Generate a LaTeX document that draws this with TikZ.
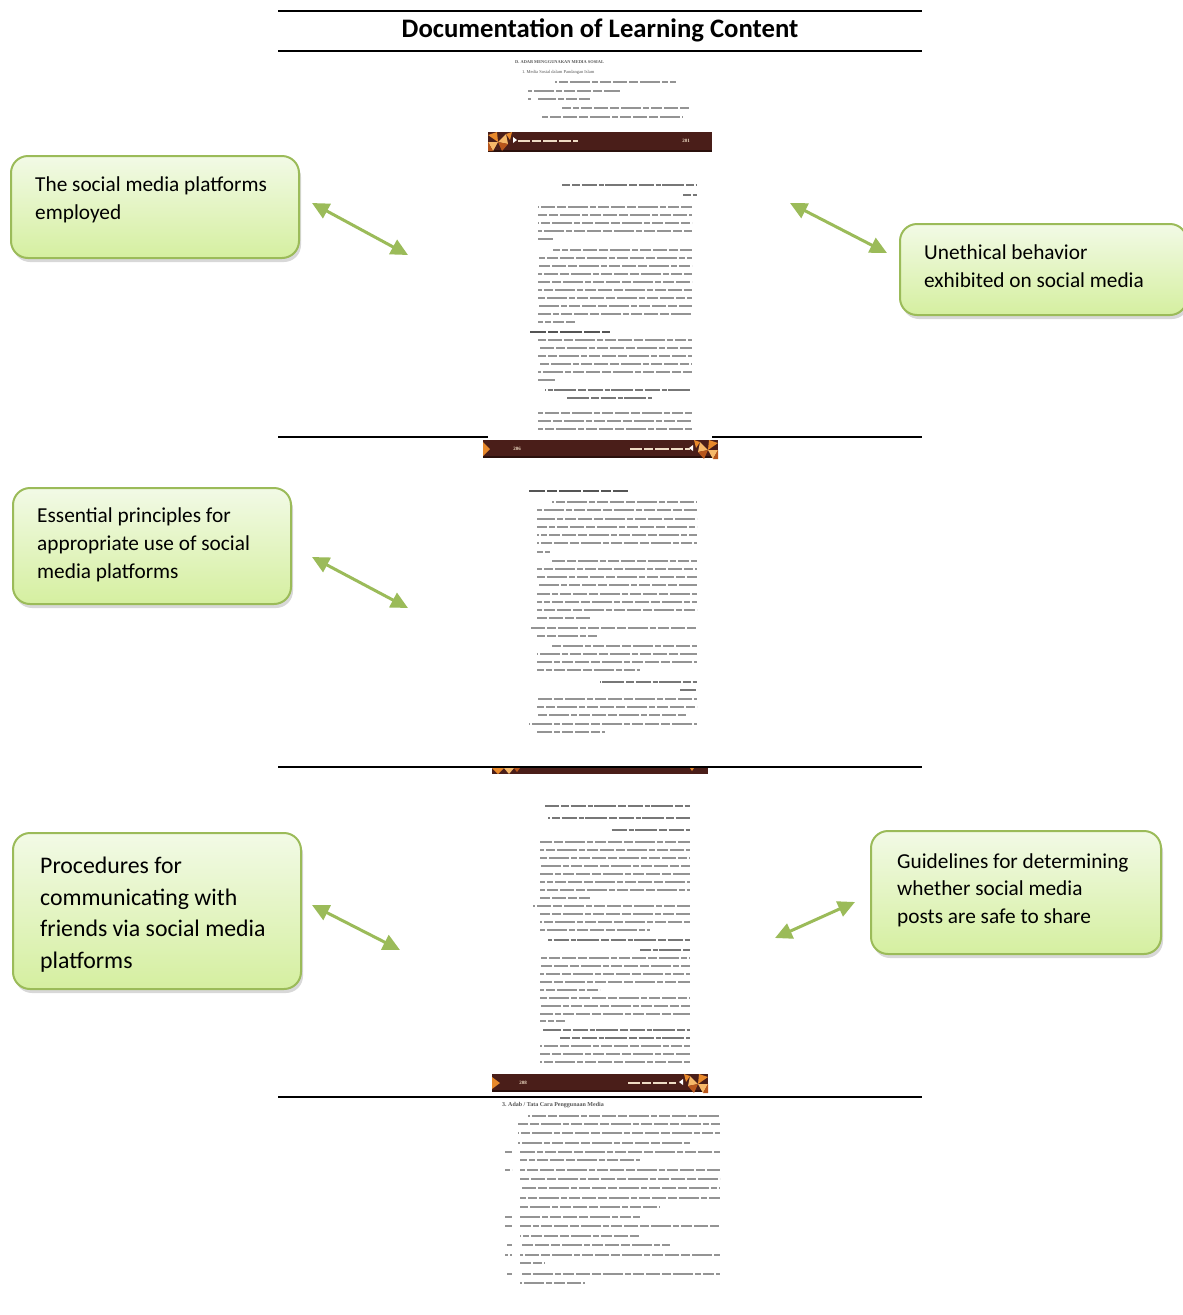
\documentclass[tikz,border=0pt]{standalone}
\usepackage{fontspec}
\setmainfont{Carlito}
\newfontfamily\pagefont{Liberation Serif}
\usetikzlibrary{arrows.meta,shadows}
\definecolor{ogreen}{HTML}{9BBB59}
\definecolor{gtop}{HTML}{F2FAE6}
\definecolor{gbot}{HTML}{D5EFA0}
\definecolor{barbrown}{HTML}{4A1E19}
\definecolor{barbot}{HTML}{2A100C}
\definecolor{orA}{HTML}{E8892B}
\definecolor{orB}{HTML}{F6B869}
\definecolor{orC}{HTML}{B8561C}
\definecolor{pagetxt}{HTML}{949494}
\definecolor{pagedark}{HTML}{555555}
\definecolor{bartxt}{HTML}{EFDCC4}
\newcommand\tl[3]{\draw[txt,dash phase=#3pt] (#1,#3) -- (#2,#3);}
\newcommand\al[3]{\draw[arab,dash phase=#3pt] (#1,#3) -- (#2,#3);}
\newcommand\motif{%
  \fill[orA] (0,3) -- (9,0) -- (10,10) -- cycle;
  \fill[orB] (10,10) -- (18,2) -- (20,12) -- cycle;
  \fill[orB] (0,10) -- (10,10) -- (5,19) -- cycle;
  \fill[orC] (10,10) -- (20,12) -- (14,19) -- cycle;
  \fill[orA] (18,2) -- (24,0) -- (22,8) -- cycle;
  \fill[orC] (0,10) -- (0,19) -- (5,19) -- cycle;
  \fill[white] (25,5) -- (25,11) -- (29,8) -- cycle;}
\begin{document}
\begin{tikzpicture}[x=1pt,y=-1pt,
  box/.style={draw=ogreen, line width=2pt, rounded corners=17pt,
    top color=gtop, bottom color=gbot, anchor=north west,
    inner sep=0pt,
    drop shadow={opacity=0.3, shadow xshift=2pt, shadow yshift=-4pt}},
  boxtext/.style={anchor=north west, inner sep=0pt, align=left,
    font=\fontsize{21.3}{27.8}\selectfont},
  link/.style={draw=ogreen, line width=3pt,
    {Triangle[length=17pt,width=16pt]}-{Triangle[length=17pt,width=16pt]}},
  rulefull/.style={draw=black, line width=2pt},
  txt/.style={draw=pagetxt, line width=1.25pt,
    dash pattern=on 14pt off 2pt on 9pt off 2pt on 20pt off 2pt on 6pt off 2pt on 11pt off 2pt},
  arab/.style={draw=pagedark!80, line width=1.7pt,
    dash pattern=on 22pt off 2pt on 8pt off 1.5pt on 15pt off 2pt on 5pt off 1.5pt},
  head/.style={draw=pagedark, line width=1.5pt,
    dash pattern=on 16pt off 2pt on 10pt off 2pt on 22pt off 2pt},
  barnum/.style={font=\pagefont\bfseries\fontsize{5}{6}\selectfont, text=bartxt, inner sep=0pt},
  bartext/.style={draw=bartxt, line width=1.1pt, dash pattern=on 12pt off 2pt on 9pt off 2pt on 14pt off 2pt},
  pagehead/.style={font=\pagefont\bfseries\fontsize{4.4}{5}\selectfont, text=pagedark, inner sep=0pt, anchor=west},
]
\useasboundingbox (0,0) rectangle (1183,1315);
\fill[white] (0,0) rectangle (1183,1315);

% ---------- title and rules ----------
\draw[rulefull] (278,11) -- (922,11);
\node[font=\fontsize{26.7}{30}\selectfont\bfseries, inner sep=0pt] (title) at (600,30) {Documentation of Learning Content};
\draw[rulefull] (278,51) -- (922,51);

% ---------- page 1 ----------
\node[pagehead] (p1h) at (515,62) {D.\ ADAB MENGGUNAKAN MEDIA SOSIAL};
\node[pagehead, font=\pagefont\fontsize{4.5}{5}\selectfont] (p1s) at (522,72) {1.\ Media Sosial dalam Pandangan Islam};
\tl{555}{676}{82}
\tl{528}{620}{91}
\tl{528}{531}{99}\tl{538}{590}{99}
\tl{562}{690}{108}
\tl{540}{683}{117}
% footer bar 1
\fill[barbrown] (488,132) rectangle (712,152);
\fill[barbot] (488,150) rectangle (712,152);
\begin{scope}[shift={(488,132)}]\motif\end{scope}
\draw[bartext] (518,141) -- (578,141);
\node[barnum] (n201) at (686,141) {201};

% ---------- page 2 ----------
\al{562}{697}{185}
\al{683}{697}{195}
\foreach \y in {207,215,223,231} {\tl{538}{692}{\y}}
\tl{538}{553}{239}
\tl{553}{692}{250}
\foreach \y in {258,266,274,282,290,298,306,314} {\tl{538}{692}{\y}}
\tl{538}{575}{322}
\draw[head] (530,332) -- (610,332);
\foreach \y in {340,348,356,364,372} {\tl{538}{692}{\y}}
\tl{538}{556}{380}
\al{545}{690}{390}
\al{566}{652}{398}
\foreach \y in {413,421,429} {\tl{538}{692}{\y}}
% rule with page cut-out
\draw[rulefull] (278,437) -- (488,437);
\draw[rulefull] (712,437) -- (922,437);
% footer bar 2
\fill[barbrown] (483,440) rectangle (718,458);
\fill[barbot] (483,456) rectangle (718,458);
\begin{scope}[shift={(718,440)}, xscale=-1]\motif\end{scope}
\fill[orA] (483,442) -- (490,449) -- (483,456) -- cycle;
\node[barnum] (n206) at (517,449) {206};
\draw[bartext] (630,449) -- (690,449);

% ---------- page 3 ----------
\draw[head] (529,491) -- (628,491);
\tl{552}{697}{502}
\foreach \y in {510,519,527,535,543} {\tl{537}{697}{\y}}
\tl{537}{550}{552}
\tl{552}{697}{561}
\foreach \y in {569,577,585,594,602,610} {\tl{537}{697}{\y}}
\tl{537}{590}{618}
\tl{529}{697}{628}
\tl{537}{597}{636}
\tl{552}{697}{646}
\tl{537}{697}{654}
\tl{537}{697}{662}
\tl{537}{640}{670}
\al{600}{697}{682}
\al{680}{697}{690}
\tl{537}{697}{699}
\tl{537}{697}{707}
\tl{537}{686}{715}
\tl{529}{697}{724}
\tl{537}{605}{732}
% rule and bar 3
\draw[rulefull] (278,767) -- (922,767);
\fill[barbrown] (492,768) rectangle (708,774);
\fill[orA] (492,768) -- (504,768) -- (498,774) -- cycle;
\fill[orB] (504,768) -- (514,768) -- (509,774) -- cycle;
\fill[orC] (514,768) -- (520,768) -- (517,772) -- cycle;
\fill[orA] (690,768) -- (694,768) -- (692,771) -- cycle;

% ---------- page 4 ----------
\al{545}{690}{806}
\al{548}{690}{818}
\al{610}{690}{830}
\foreach \y in {842,850,858,866,874,882,890} {\tl{540}{690}{\y}}
\tl{540}{590}{898}
\tl{533}{690}{906}
\tl{540}{690}{914}
\tl{540}{690}{922}
\tl{540}{650}{930}
\al{548}{690}{940}
\al{640}{690}{950}
\foreach \y in {958,966,974,982} {\tl{540}{690}{\y}}
\tl{540}{600}{990}
\foreach \y in {998,1006,1014} {\tl{540}{690}{\y}}
\tl{540}{565}{1021}
\al{543}{690}{1030}
\al{560}{690}{1038}
\foreach \y in {1046,1054,1062} {\tl{540}{690}{\y}}
% footer bar 4
\fill[barbrown] (492,1074) rectangle (708,1092);
\fill[barbot] (492,1090) rectangle (708,1092);
\begin{scope}[shift={(708,1074)}, xscale=-1]\motif\end{scope}
\fill[orA] (492,1077) -- (500,1083) -- (492,1089) -- cycle;
\node[barnum] (n208) at (523,1083) {208};
\draw[bartext] (628,1083) -- (676,1083);
\draw[rulefull] (278,1097) -- (922,1097);

% ---------- page 5 ----------
\node[pagehead, font=\pagefont\bfseries\fontsize{6}{7}\selectfont] (p5h) at (502,1105) {3.\ Adab / Tata Cara Penggunaan Media};
\tl{528}{720}{1116}
\tl{518}{720}{1124}
\tl{518}{720}{1133}
\tl{518}{690}{1143}
\foreach \y in {1152,1170,1217,1226,1245,1255,1274} {\tl{505}{512}{\y}}
\tl{520}{720}{1152}
\tl{520}{640}{1160}
\foreach \y in {1170,1179,1188,1198} {\tl{520}{720}{\y}}
\tl{520}{660}{1207}
\tl{520}{640}{1217}
\tl{520}{720}{1226}
\tl{520}{640}{1236}
\tl{520}{670}{1245}
\tl{520}{720}{1255}
\tl{520}{545}{1263}
\tl{520}{720}{1274}
\tl{520}{585}{1283}

% ---------- boxes ----------
\node[box, minimum width=288pt, minimum height=102pt] (bA) at (10,155) {};
\node[boxtext] (tA) at (35,177) {The social media platforms\\employed};
\node[box, minimum width=287pt, minimum height=91pt] (bB) at (899,223) {};
\node[boxtext] (tB) at (924,245) {Unethical behavior\\exhibited on social media};
\node[box, minimum width=278pt, minimum height=116pt] (bC) at (12,487) {};
\node[boxtext] (tC) at (37,508) {Essential principles for\\appropriate use of social\\media platforms};
\node[box, minimum width=288pt, minimum height=156pt] (bD) at (12,832) {};
\node[boxtext, font=\fontsize{23.8}{31.5}\selectfont] (tD) at (40,857) {Procedures for\\communicating with\\friends via social media\\platforms};
\node[box, minimum width=290pt, minimum height=123pt] (bE) at (870,830) {};
\node[boxtext] (tE) at (897,853) {Guidelines for determining\\whether social media\\posts are safe to share};

% ---------- arrows ----------
\coordinate (a1s) at (312,203); \coordinate (a1e) at (408,255);
\coordinate (a2s) at (790,203); \coordinate (a2e) at (887,253);
\coordinate (a3s) at (312,557); \coordinate (a3e) at (408,608);
\coordinate (a4s) at (312,905); \coordinate (a4e) at (400,950);
\coordinate (a5s) at (775,938); \coordinate (a5e) at (855,902);
\draw[link] (a1s) -- (a1e);
\draw[link] (a2s) -- (a2e);
\draw[link] (a3s) -- (a3e);
\draw[link] (a4s) -- (a4e);
\draw[link] (a5s) -- (a5e);
\end{tikzpicture}
\end{document}
